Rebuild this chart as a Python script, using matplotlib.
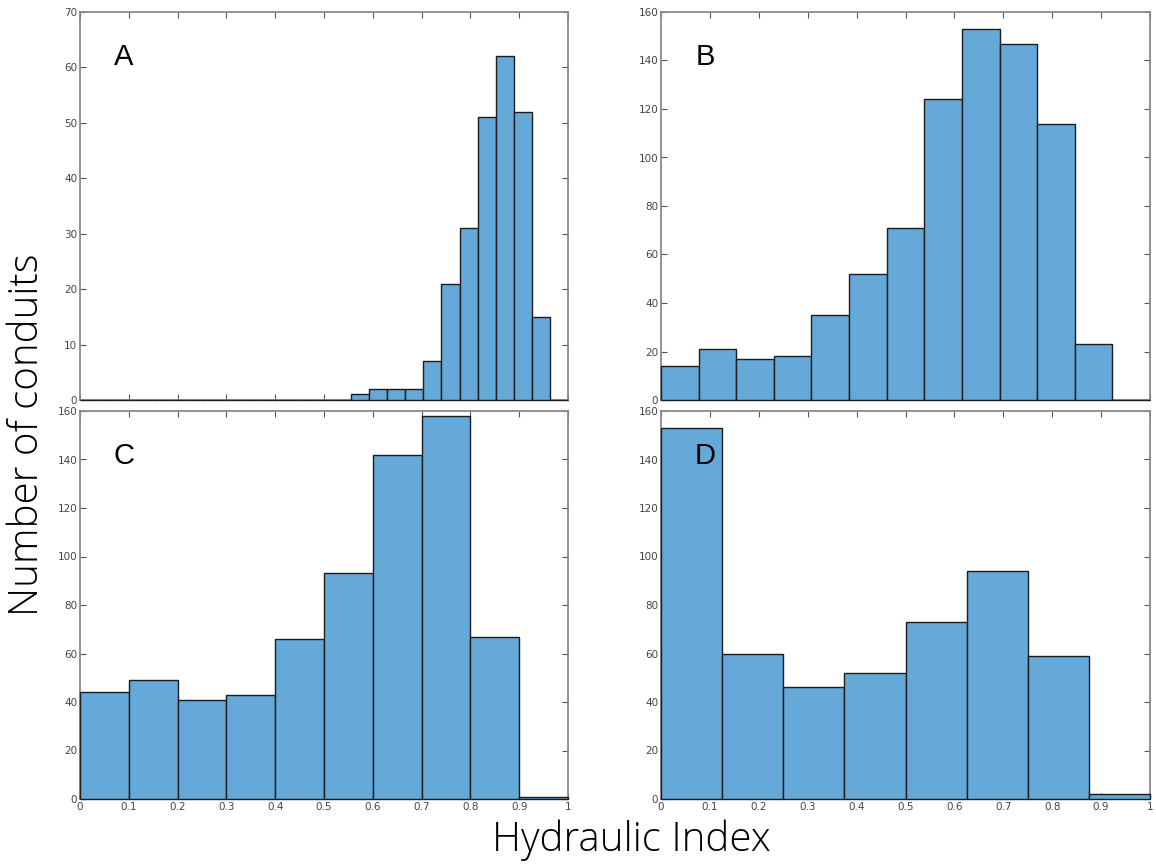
import numpy as np
import matplotlib.pyplot as plt

# conteggi per classe dell'indice idraulico, un pannello per rete
counts_a = [0] * 15 + [1, 2, 2, 2, 7, 21, 31, 51, 62, 52, 15, 0]   # 27 classi
counts_b = [14, 21, 17, 18, 35, 52, 71, 124, 153, 147, 114, 23, 0]  # 13 classi
counts_c = [44, 49, 41, 43, 66, 93, 142, 158, 67, 1]                # 10 classi
counts_d = [153, 60, 46, 52, 73, 94, 59, 2]                         # 8 classi

letters = ['A', 'B', 'C', 'D']
panels = [counts_a, counts_b, counts_c, counts_d]
ylims = [70, 160, 160, 160]
ysteps = [10, 20, 20, 20]

xticks = np.round(np.arange(0, 1.01, 0.1), 1)
xticklabels = ['0'] + ['%.1f' % v for v in xticks[1:-1]] + ['1']

bar_col = '#64a9d7'
frame_col = '#8a8a8a'

fig = plt.figure(figsize=(11.56, 8.65), dpi=100)
W, H = 1156, 865
# posizioni degli assi in pixel (sinistra, alto, destra, basso)
boxes = [(80, 12, 568, 400), (661, 12, 1150, 400),
         (80, 411, 568, 799), (661, 411, 1150, 799)]

for i, (counts, box) in enumerate(zip(panels, boxes)):
    l, t, r, b = box
    ax = fig.add_axes([l / W, 1 - b / H, (r - l) / W, (b - t) / H])
    n = len(counts)
    edges = np.linspace(0, 1, n + 1)
    ax.bar(edges[:-1], counts, width=1 / n, align='edge', color=bar_col,
           edgecolor='#1c1c1c', linewidth=1.0, zorder=3, clip_on=False)
    ax.set_xlim(0, 1)
    ax.set_ylim(0, ylims[i])
    ax.set_yticks(np.arange(0, ylims[i] + 1, ysteps[i]))
    ax.set_xticks(xticks)
    if i >= 2:
        ax.set_xticklabels(xticklabels)
    else:
        ax.set_xticklabels([])
    ax.tick_params(direction='in', top=True, right=True, length=4,
                   width=0.8, color='#555555', labelsize=7.5,
                   labelcolor='#444444', pad=2)
    for s in ax.spines.values():
        s.set_color(frame_col)
        s.set_linewidth(1.3)
    ax.text(0.09, 0.885, letters[i], transform=ax.transAxes, fontsize=21,
            ha='center', va='center', family='Liberation Sans')

fig.text(28 / W, 1 - 435 / H, 'Number of conduits', rotation=90,
         fontsize=29, ha='center', va='center', family='Open Sans',
         fontweight='light')
fig.text(631 / W, 1 - 840 / H, 'Hydraulic Index', fontsize=29,
         ha='center', va='center', family='Open Sans', fontweight='light')

plt.savefig('out.png', dpi=100)
